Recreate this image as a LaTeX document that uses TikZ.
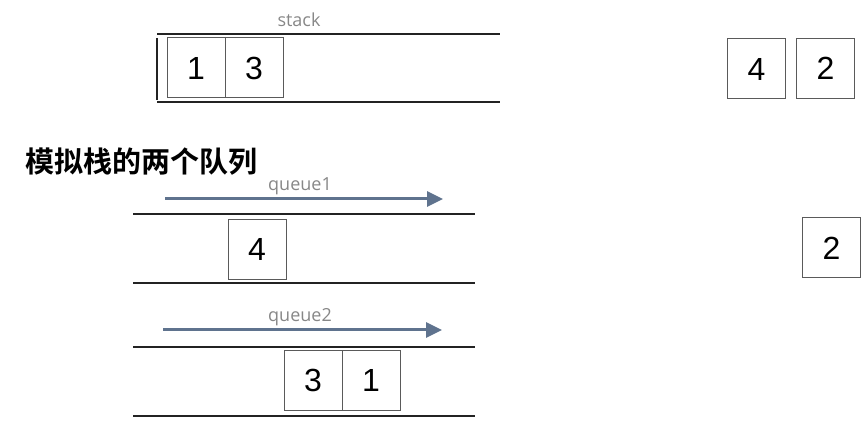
\documentclass[tikz,border=0pt]{standalone}
\usepackage{fontspec}
\setmainfont{Liberation Sans}
\newfontfamily\tagfont{Open Sans}
\newfontfamily\cjk{Noto Sans CJK SC}[BoldFont={Noto Sans CJK SC Bold}]
\usepackage{tikz}
\usetikzlibrary{arrows.meta, positioning}
\usepackage{xcolor}
\definecolor{cWall}{RGB}{35,35,35}
\definecolor{cBox}{RGB}{90,90,90}
\definecolor{cFlow}{RGB}{95,115,142}
\definecolor{cTag}{RGB}{135,135,135}
\tikzset{
  cellbox/.style={rectangle, draw=cBox, line width=1pt, outer sep=0pt,
                  inner sep=0pt, minimum width=58pt, minimum height=60pt,
                  font=\fontsize{32}{34}\selectfont},
  wall/.style={line width=2pt, draw=cWall},
  flowarrow/.style={-{Triangle[length=16pt,width=15pt]}, line width=3pt,
                    draw=cFlow},
  tag/.style={text=cTag, inner sep=0pt, font=\tagfont\fontsize{18}{20}\selectfont},
  title/.style={inner sep=0pt, anchor=west,
                font=\cjk\bfseries\fontsize{29}{31}\selectfont}
}
\begin{document}
\begin{tikzpicture}[x=1pt, y=-1pt]
  \useasboundingbox (0,0) rectangle (868,435);

  % stack
  \node[tag] (stack_tag) at (299,20) {stack};
  \draw[wall] (157,34) -- (500,34);
  \draw[wall] (157,102) -- (500,102);
  \draw[wall, line width=2.5pt] (157,38) -- (157,100);
  \node[cellbox] (stack_one) at (196,68) {1};
  \node[cellbox, right=0pt of stack_one] (stack_three) {3};

  \node[cellbox] (out_four) at (756.5,69) {4};
  \node[cellbox] (out_two) at (825.5,68.5) {2};

  \node[title] (heading) at (25,162) {模拟栈的两个队列};

  % queue1
  \coordinate (q1_from) at (165,199);
  \coordinate (q1_to) at (443,199);
  \node[tag] (q1_tag) at (300,186) {queue1};
  \draw[flowarrow] (q1_from) -- (q1_to);
  \draw[wall] (133,214) -- (475,214);
  \draw[wall] (133,283) -- (475,283);
  \node[cellbox] (q1_four) at (257,249.5) {4};

  \node[cellbox] (side_two) at (831.5,248) {2};

  % queue2
  \coordinate (q2_from) at (163,330);
  \coordinate (q2_to) at (442,330);
  \node[tag] (q2_tag) at (300,317) {queue2};
  \draw[flowarrow] (q2_from) -- (q2_to);
  \draw[wall] (133,347) -- (475,347);
  \draw[wall] (133,416) -- (475,416);
  \node[cellbox] (q2_three) at (313,380.5) {3};
  \node[cellbox, right=0pt of q2_three] (q2_one) {1};
\end{tikzpicture}
\end{document}
